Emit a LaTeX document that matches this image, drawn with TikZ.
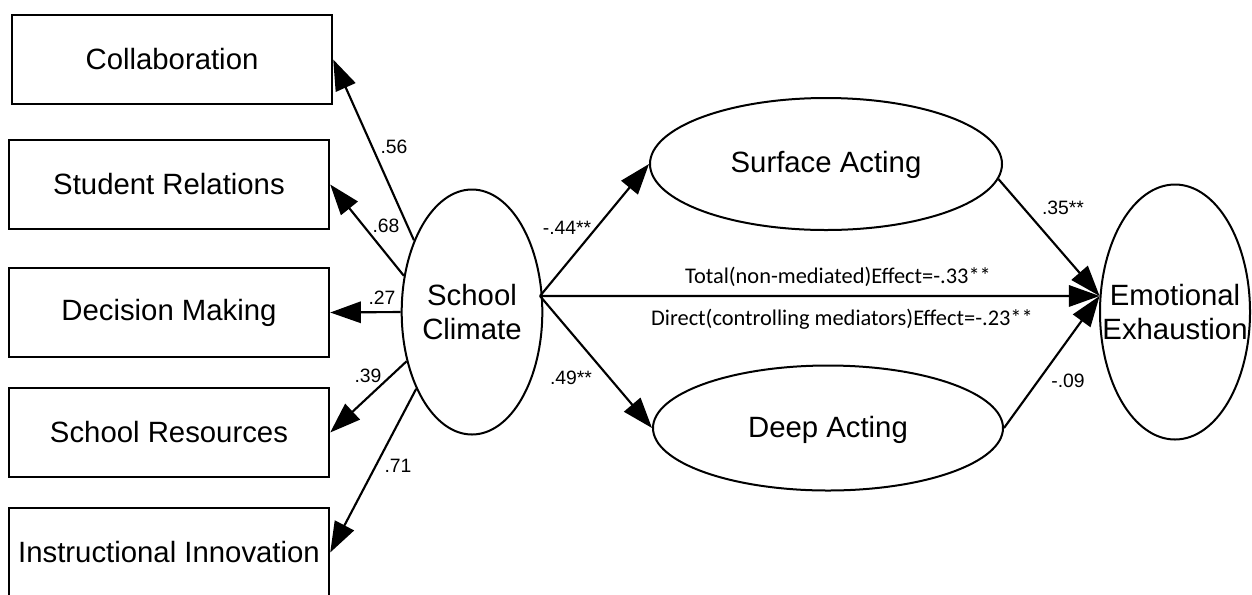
\documentclass[tikz,border=0pt]{standalone}
\usepackage{fontspec}
\setmainfont{Liberation Sans}
\newfontfamily\calfont{Carlito}
\usetikzlibrary{shapes.geometric,arrows.meta}
\begin{document}
\begin{tikzpicture}[x=0.75pt,y=-0.75pt,
  boxnode/.style={draw,line width=1.8pt,minimum width=240pt,minimum height=66.75pt,inner sep=0pt,font=\fontsize{22}{25}\selectfont},
  ellnode/.style={draw,ellipse,line width=1.5pt,inner sep=0pt,font=\fontsize{22}{25}\selectfont,align=center},
  txtnode/.style={inner sep=0pt,font=\fontsize{22}{25}\selectfont,align=center},
  arr/.style={line width=1.6pt,-{Triangle[length=23pt,width=16pt]}},
  lbl/.style={inner sep=0pt,font=\fontsize{14.5}{16}\selectfont},
  eff/.style={inner sep=0pt,font=\calfont\fontsize{16.8}{18}\selectfont}]
\useasboundingbox (0,0) rectangle (1252,594);
\begin{scope}
\clip (0,0) rectangle (1252,594);
\node[boxnode] (col) at (172,59.5) {Collaboration};
\node[boxnode] (sr) at (169,184.5) {Student Relations};
\node[boxnode] (dm) at (169,312.5) {Decision Making};
\node[boxnode] (res) at (169,432.5) {School Resources};
\node[boxnode] (ii) at (169,552.5) {Instructional Innovation};
\end{scope}
\node[ellnode,minimum width=102.75pt,minimum height=183.75pt] (sc) at (472,312) {School\\Climate};
\node[ellnode,minimum width=264pt,minimum height=99pt] (sa) at (826,164) {};
\node[txtnode] (sat) at (826,165) {Surface Acting};
\node[ellnode,minimum width=262.5pt,minimum height=93.75pt] (da) at (828,428) {};
\node[txtnode] (dat) at (828,429.5) {Deep Acting};
\node[ellnode,minimum width=112.5pt,minimum height=191.25pt] (ee) at (1175,312) {};
\node[txtnode] (eet) at (1175,312) {Emotional\\Exhaustion};
\coordinate (scr) at (540,296);
\draw[arr] (sc.129.6) -- (col.east);
\draw[arr] (sc.152) -- (sr.east);
\draw[arr] (sc.180) -- (dm.east);
\draw[arr] (sc.217) -- (res.east);
\draw[arr] (sc.234.6) -- (ii.east);
\draw[arr] (scr) -- (sa.west);
\draw[arr] (scr) -- (da.west);
\draw[arr] (scr) -- (ee.168);
\draw[arr] (sa.-5) -- (ee.168);
\draw[arr] (da.east) -- (ee.168);
\node[lbl] (l56) at (394,147) {.56};
\node[lbl] (l68) at (386,226) {.68};
\node[lbl] (l27) at (382,298) {.27};
\node[lbl] (l39) at (368,376) {.39};
\node[lbl] (l71) at (398,466) {.71};
\node[lbl] (l44) at (567,228) {-.44**};
\node[lbl] (l49) at (571,378) {.49**};
\node[lbl] (l35) at (1063,208) {.35**};
\node[lbl] (l09) at (1068,381) {-.09};
\node[eff] (tot) at (838,277) {Total(non-mediated)Effect=-.33**};
\node[eff] (dir) at (842,319) {Direct(controlling mediators)Effect=-.23**};
\end{tikzpicture}
\end{document}
